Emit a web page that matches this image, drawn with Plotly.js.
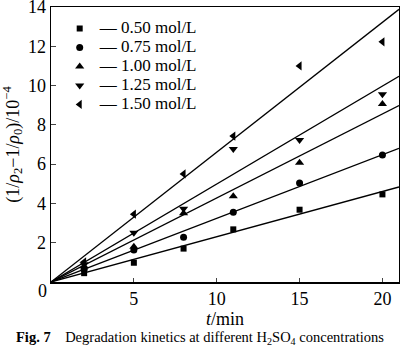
<!DOCTYPE html>
<html><head><meta charset="utf-8">
<script src="https://cdn.plot.ly/plotly-3.0.1.min.js"></script>
<style>html,body{margin:0;padding:0;background:#fff}</style>
</head><body><div id="chart" style="width:400px;height:352px"></div>
<script>
// data
const times = [2, 5, 8, 11, 15, 20];
const labels = ['0.50 mol/L', '0.75 mol/L', '1.00 mol/L', '1.25 mol/L', '1.50 mol/L'];
const y050 = [0.45, 0.98, 1.70, 2.68, 3.68, 4.46];
const y075 = [0.65, 1.63, 2.28, 3.55, 5.04, 6.47];
const y100 = [0.80, 1.80, 3.50, 4.36, 6.07, 9.06];
const y125 = [0.90, 2.51, 3.73, 6.77, 7.23, 9.56];
const y150 = [1.02, 3.45, 5.50, 7.43, 11.00, 12.23];
const series = [y050, y075, y100, y125, y150];
const xTicks = [5, 10, 15, 20];
const yTicks = [0, 2, 4, 6, 8, 10, 12, 14];
const xMax = 21;
const yMax = 14;

const symbols = ['square', 'circle', 'triangle-up', 'triangle-down', 'triangle-left'];
const sizes = [6, 7, 8, 8, 8];
const serif = 'Liberation Serif, Times New Roman, serif';

const traces = [];
// fitted lines through origin (least squares) computed from the data
series.forEach((ys) => {
  let num = 0, den = 0;
  times.forEach((t, i) => { num += t * ys[i]; den += t * t; });
  const k = num / den;
  traces.push({x: [0, xMax], y: [0, k * xMax], mode: 'lines', line: {color: '#000', width: 1.3},
    showlegend: false, hoverinfo: 'skip'});
});
series.forEach((ys, i) => {
  traces.push({x: times, y: ys, mode: 'markers',
    name: '<span style="font-size:17px">\u2014 ' + labels[i] + '</span>',
    marker: {symbol: symbols[i], size: sizes[i], color: '#000'}});
});

const layout = {
  width: 400, height: 352,
  margin: {l: 51, r: 1, t: 7, b: 70},
  paper_bgcolor: '#fff', plot_bgcolor: '#fff',
  font: {family: serif, color: '#000', size: 18},
  showlegend: true,
  legend: {x: 0.025, y: 0.975, xanchor: 'left', yanchor: 'top', bgcolor: 'rgba(0,0,0,0)',
    font: {family: serif, size: 11.7, color: '#000'}},
  xaxis: {range: [0, xMax], tickvals: xTicks, ticks: 'inside', ticklen: 4, tickwidth: 1.2,
    showline: true, linewidth: 1.5, linecolor: '#000', mirror: true, showgrid: false, zeroline: false,
    tickfont: {family: serif, size: 18},
    title: {text: '<i>t</i>/min', font: {family: serif, size: 18}, standoff: 0}},
  yaxis: {range: [0, yMax], tickvals: yTicks, ticktext: yTicks.map(v => v === 0 ? '' : String(v)),
    ticks: 'inside', ticklen: 5, tickwidth: 1.2, ticklabeloverflow: 'allow',
    showline: true, linewidth: 1.5, linecolor: '#000', mirror: true, showgrid: false, zeroline: false,
    tickfont: {family: serif, size: 18},
    title: {text: '(1/<i>\u03c1</i><sub>2</sub>\u22121/<i>\u03c1</i><sub>0</sub>)/10<sup>\u22124</sup>',
      font: {family: serif, size: 18}, standoff: 6}},
  annotations: [
    {x: 0, y: 0, xref: 'x', yref: 'y', text: '0', showarrow: false, xanchor: 'right', yanchor: 'middle',
      xshift: -2, yshift: -9, font: {family: serif, size: 18}},
    {x: 0.428, y: -0.205, xref: 'paper', yref: 'paper', xanchor: 'center', yanchor: 'middle', showarrow: false,
      text: '<b>Fig. 7</b>\u00a0\u00a0\u00a0\u00a0Degradation kinetics at different H<sub>2</sub>SO<sub>4</sub> concentrations',
      font: {family: serif, size: 14.5}}
  ]
};

Plotly.newPlot('chart', traces, layout, {staticPlot: true, displayModeBar: false});
</script></body></html>
